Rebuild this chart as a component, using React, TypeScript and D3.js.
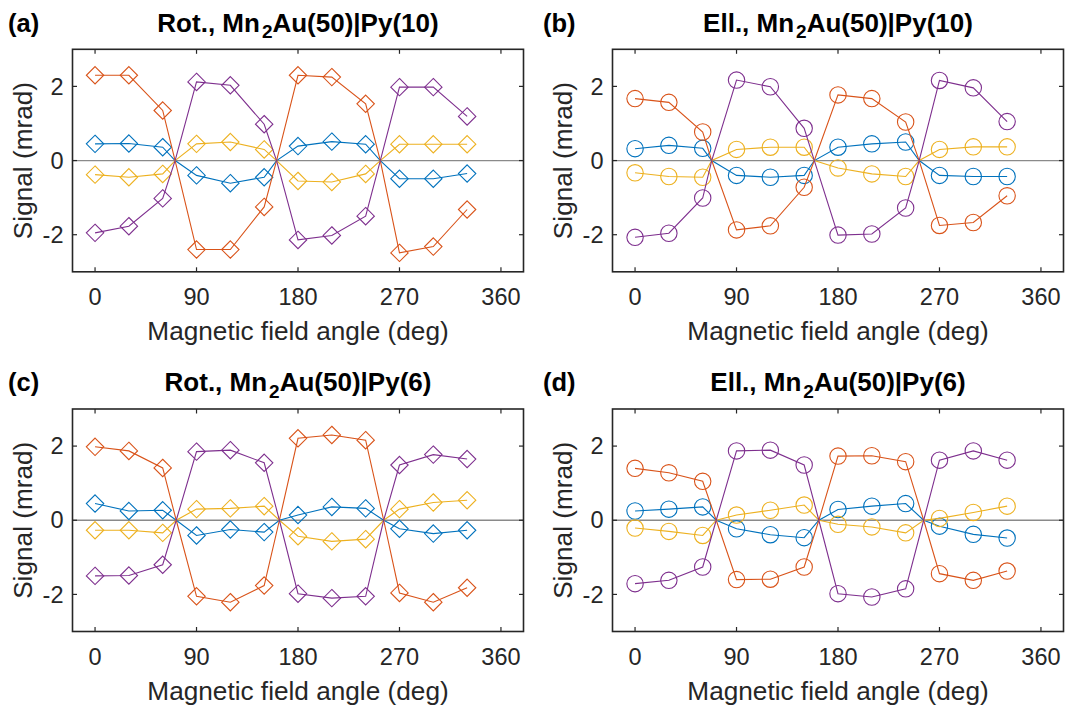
import React from "react";
import * as d3 from "d3";

const FONT = "'Liberation Sans', Arial, Helvetica, sans-serif";
const TEXT = "#262626";

// ---------- data ----------
const angles = [0, 30, 60, 90, 120, 150, 180, 210, 240, 270, 300, 330];
const xTicks = [0, 90, 180, 270, 360];
const yTicks = [-2, 0, 2];
const seriesColors = ["#0072BD", "#D95319", "#EDB120", "#7E2F8E"];

// (a) Rot., Py(10)
const rotPy10Blue = [0.45, 0.46, 0.36, -0.4, -0.61, -0.45, 0.39, 0.51, 0.44, -0.49, -0.49, -0.35];
const rotPy10Orange = [2.3, 2.3, 1.35, -2.4, -2.4, -1.25, 2.3, 2.25, 1.53, -2.49, -2.32, -1.32];
const rotPy10Yellow = [-0.38, -0.45, -0.36, 0.45, 0.5, 0.3, -0.55, -0.58, -0.36, 0.44, 0.44, 0.44];
const rotPy10Purple = [-1.95, -1.77, -1.02, 2.12, 2.03, 0.98, -2.14, -2.02, -1.5, 1.98, 1.98, 1.19];
const rotPy10Zeros = [71, 161, 253];

// (b) Ell., Py(10)
const ellPy10Blue = [0.32, 0.41, 0.33, -0.4, -0.45, -0.4, 0.36, 0.45, 0.5, -0.4, -0.43, -0.43];
const ellPy10Orange = [1.67, 1.57, 0.77, -1.87, -1.76, -0.72, 1.77, 1.67, 1.04, -1.75, -1.67, -0.95];
const ellPy10Yellow = [-0.33, -0.43, -0.45, 0.3, 0.36, 0.36, -0.2, -0.36, -0.43, 0.3, 0.37, 0.37];
const ellPy10Purple = [-2.07, -1.96, -1.01, 2.17, 1.99, 0.87, -2.01, -1.98, -1.28, 2.16, 1.96, 1.05];
const ellPy10Zeros = [68, 159, 252];

// (c) Rot., Py(6)
const rotPy6Blue = [0.45, 0.25, 0.27, -0.41, -0.25, -0.32, 0.14, 0.36, 0.32, -0.23, -0.36, -0.27];
const rotPy6Orange = [1.98, 1.87, 1.41, -2.05, -2.21, -1.76, 2.21, 2.3, 2.16, -1.96, -2.21, -1.82];
const rotPy6Yellow = [-0.27, -0.27, -0.34, 0.3, 0.32, 0.38, -0.43, -0.57, -0.51, 0.3, 0.48, 0.54];
const rotPy6Purple = [-1.5, -1.49, -1.2, 1.85, 1.89, 1.55, -1.98, -2.1, -2.05, 1.49, 1.77, 1.65];
const rotPy6Zeros = [72, 163.5, 256];

// (d) Ell., Py(6)
const ellPy6Blue = [0.25, 0.3, 0.36, -0.23, -0.39, -0.47, 0.29, 0.38, 0.45, -0.16, -0.38, -0.48];
const ellPy6Orange = [1.4, 1.28, 1.05, -1.6, -1.59, -1.26, 1.73, 1.74, 1.58, -1.44, -1.62, -1.37];
const ellPy6Yellow = [-0.21, -0.3, -0.41, 0.14, 0.27, 0.41, -0.11, -0.18, -0.34, 0.05, 0.21, 0.38];
const ellPy6Purple = [-1.71, -1.62, -1.26, 1.87, 1.89, 1.49, -1.98, -2.07, -1.85, 1.62, 1.87, 1.62];
const ellPy6Zeros = [72, 163, 256];

// ---------- layout ----------
const W = 1065;
const H = 709;
const PW = 451;
const PH = 222.5;
const colX = [72.5, 612.5];
const rowY = [49.3, 409];

type PanelProps = {
  left: number;
  top: number;
  label: string;
  mode: string;
  py: string;
  series: number[][];
  zeros: number[];
  marker: "diamond" | "circle";
  labelX: number;
};

function Panel({ left, top, label, mode, py, series, zeros, marker, labelX }: PanelProps) {
  const x = d3.scaleLinear().domain([-20, 380]).range([left, left + PW]);
  const y = d3.scaleLinear().domain([-3, 3]).range([top + PH, top]);
  const bottom = top + PH;
  const right = left + PW;
  const cx = left + PW / 2;
  const tickLen = 4.5;
  const line = d3
    .line<[number, number]>()
    .x((d) => x(d[0]))
    .y((d) => y(d[1]));
  const diamond = (px: number, py2: number) => {
    const r = 8.7;
    return `M${px},${py2 - r}L${px + r},${py2}L${px},${py2 + r}L${px - r},${py2}Z`;
  };
  return (
    <g>
      <rect x={left} y={top} width={PW} height={PH} fill="#fff" />
      <line x1={left} x2={right} y1={y(0)} y2={y(0)} stroke="#8a8a8a" strokeWidth={1.3} />
      {series.map((vals, si) => {
        const pts: [number, number][] = angles.map((a, i) => [a, vals[i]] as [number, number]);
        zeros.forEach((z) => pts.push([z, 0]));
        pts.sort((p, q) => p[0] - q[0]);
        const color = seriesColors[si];
        return (
          <g key={si}>
            <path d={line(pts) || ""} fill="none" stroke={color} strokeWidth={1.1} />
            {angles.map((a, i) =>
              marker === "diamond" ? (
                <path key={i} d={diamond(x(a), y(vals[i]))} fill="none" stroke={color} strokeWidth={1.1} />
              ) : (
                <circle key={i} cx={x(a)} cy={y(vals[i])} r={8.2} fill="none" stroke={color} strokeWidth={1.1} />
              )
            )}
          </g>
        );
      })}
      <rect x={left} y={top} width={PW} height={PH} fill="none" stroke={TEXT} strokeWidth={1.6} />
      {xTicks.map((t) => (
        <g key={"xt" + t}>
          <line x1={x(t)} x2={x(t)} y1={bottom} y2={bottom - tickLen} stroke={TEXT} strokeWidth={1.2} />
          <line x1={x(t)} x2={x(t)} y1={top} y2={top + tickLen} stroke={TEXT} strokeWidth={1.2} />
          <text x={x(t)} y={bottom + 33.5} textAnchor="middle" fontSize={23.5} fill={TEXT} fontFamily={FONT}>
            {t}
          </text>
        </g>
      ))}
      {yTicks.map((t) => (
        <g key={"yt" + t}>
          <line x1={left} x2={left + tickLen} y1={y(t)} y2={y(t)} stroke={TEXT} strokeWidth={1.2} />
          <line x1={right} x2={right - tickLen} y1={y(t)} y2={y(t)} stroke={TEXT} strokeWidth={1.2} />
          <text
            x={left - 9}
            y={y(t)}
            dy="0.35em"
            textAnchor="end"
            fontSize={23.5}
            fill={TEXT}
            fontFamily={FONT}
          >
            {t}
          </text>
        </g>
      ))}
      <text x={cx} y={bottom + 68} textAnchor="middle" fontSize={26.2} fill={TEXT} fontFamily={FONT}>
        Magnetic field angle (deg)
      </text>
      <text
        transform={`translate(${left - 40.5},${top + PH / 2}) rotate(-90)`}
        textAnchor="middle"
        fontSize={26.2}
        fill={TEXT}
        fontFamily={FONT}
      >
        Signal (mrad)
      </text>
      <text
        x={cx}
        y={top - 17.6}
        textAnchor="middle"
        fontSize={26}
        fontWeight="bold"
        fill="#000"
        fontFamily={FONT}
      >
        {mode}, Mn
        <tspan dx={2} dy={6.5} fontSize={19}>2</tspan>
        <tspan dy={-6.5}>{`Au(50)|Py(${py})`}</tspan>
      </text>
      <text x={labelX} y={top - 17.8} fontSize={25.5} fontWeight="bold" fill="#000" fontFamily={FONT}>
        {label}
      </text>
    </g>
  );
}

export default function App() {
  return (
    <svg width={W} height={H} style={{ display: "block", position: "absolute", left: 0, top: 0 }}>
      <rect width={W} height={H} fill="#fff" />
      <Panel
        left={colX[0]}
        top={rowY[0]}
        label="(a)"
        mode="Rot."
        py="10"
        series={[rotPy10Blue, rotPy10Orange, rotPy10Yellow, rotPy10Purple]}
        zeros={rotPy10Zeros}
        marker="diamond"
        labelX={8}
      />
      <Panel
        left={colX[1]}
        top={rowY[0]}
        label="(b)"
        mode="Ell."
        py="10"
        series={[ellPy10Blue, ellPy10Orange, ellPy10Yellow, ellPy10Purple]}
        zeros={ellPy10Zeros}
        marker="circle"
        labelX={543}
      />
      <Panel
        left={colX[0]}
        top={rowY[1]}
        label="(c)"
        mode="Rot."
        py="6"
        series={[rotPy6Blue, rotPy6Orange, rotPy6Yellow, rotPy6Purple]}
        zeros={rotPy6Zeros}
        marker="diamond"
        labelX={8}
      />
      <Panel
        left={colX[1]}
        top={rowY[1]}
        label="(d)"
        mode="Ell."
        py="6"
        series={[ellPy6Blue, ellPy6Orange, ellPy6Yellow, ellPy6Purple]}
        zeros={ellPy6Zeros}
        marker="circle"
        labelX={543}
      />
    </svg>
  );
}
